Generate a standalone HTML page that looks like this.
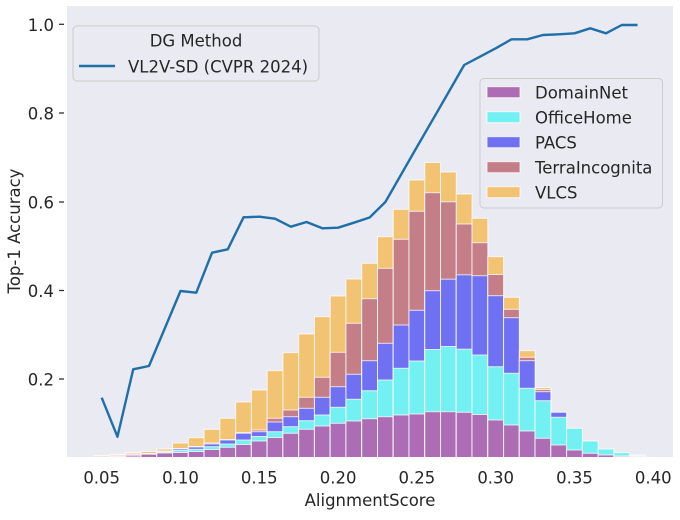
<!DOCTYPE html>
<html><head><meta charset="utf-8"><style>
html,body{margin:0;padding:0;background:#fff;}
svg{display:block;font-family:"DejaVu Sans","Liberation Sans",sans-serif;}
.v{fill:#f2c373}.t{fill:#c47e88}.p{fill:#7070f2}.o{fill:#73f0f2}.d{fill:#ad6db5}
.bars rect{stroke:#fff;stroke-opacity:.75;stroke-width:1}
text{fill:#262626;font-size:16.5px}
</style></head><body>
<svg width="680" height="520" viewBox="0 0 680 520" xmlns="http://www.w3.org/2000/svg">
<defs><clipPath id="c"><rect x="67" y="6" width="606" height="451"/></clipPath></defs>
<rect x="0" y="0" width="680" height="520" fill="#fff"/>
<rect x="67" y="6" width="606" height="451" fill="#eaeaf2"/>
<g class="bars" clip-path="url(#c)">
<g transform="translate(93.82,0)"><rect class="v" width="15.76" y="455.5" height="5" style="fill:#f7e6d8"/></g>
<g transform="translate(109.58,0)"><rect class="v" width="15.76" y="454.5" height="6" style="fill:#f5e2d2"/><rect class="d" width="15.76" y="456.3" height="4" style="fill:#e8d0e4"/></g>
<g transform="translate(125.34,0)"><rect class="v" width="15.76" y="452.5" height="8" style="fill:#f3dcc8"/><rect class="d" width="15.76" y="455" height="5" style="fill:#d6a8d6"/></g>
<g transform="translate(141.1,0)"><rect class="v" width="15.76" y="451.5" height="9"/><rect class="p" width="15.76" y="453.5" height="7"/><rect class="o" width="15.76" y="453.8" height="7"/><rect class="d" width="15.76" y="454.2" height="6"/></g>
<g transform="translate(156.86,0)"><rect class="v" width="15.76" y="449" height="11"/><rect class="t" width="15.76" y="451" height="9"/><rect class="p" width="15.76" y="451.5" height="9"/><rect class="o" width="15.76" y="452.2" height="8"/><rect class="d" width="15.76" y="453" height="7"/></g>
<g transform="translate(172.62,0)"><rect class="v" width="15.76" y="443" height="17"/><rect class="t" width="15.76" y="448.5" height="12"/><rect class="p" width="15.76" y="449" height="11"/><rect class="o" width="15.76" y="450.5" height="10"/><rect class="d" width="15.76" y="452.5" height="8"/></g>
<g transform="translate(188.38,0)"><rect class="v" width="15.76" y="437.7" height="23"/><rect class="t" width="15.76" y="446.5" height="14"/><rect class="p" width="15.76" y="447" height="13"/><rect class="o" width="15.76" y="449.3" height="11"/><rect class="d" width="15.76" y="451.5" height="9"/></g>
<g transform="translate(204.14,0)"><rect class="v" width="15.76" y="429.3" height="31"/><rect class="t" width="15.76" y="443" height="17"/><rect class="p" width="15.76" y="444" height="16"/><rect class="o" width="15.76" y="446.7" height="14"/><rect class="d" width="15.76" y="449.5" height="11"/></g>
<g transform="translate(219.9,0)"><rect class="v" width="15.76" y="418.3" height="42"/><rect class="t" width="15.76" y="439.5" height="21"/><rect class="p" width="15.76" y="440" height="20"/><rect class="o" width="15.76" y="444" height="16"/><rect class="d" width="15.76" y="447.3" height="13"/></g>
<g transform="translate(235.66,0)"><rect class="v" width="15.76" y="402" height="58"/><rect class="t" width="15.76" y="432.5" height="28"/><rect class="p" width="15.76" y="433.3" height="27"/><rect class="o" width="15.76" y="440" height="20"/><rect class="d" width="15.76" y="444.5" height="16"/></g>
<g transform="translate(251.42,0)"><rect class="v" width="15.76" y="390" height="70"/><rect class="t" width="15.76" y="430" height="30"/><rect class="p" width="15.76" y="431.7" height="29"/><rect class="o" width="15.76" y="436.5" height="24"/><rect class="d" width="15.76" y="441" height="19"/></g>
<g transform="translate(267.18,0)"><rect class="v" width="15.76" y="370.7" height="90"/><rect class="t" width="15.76" y="418.3" height="42"/><rect class="p" width="15.76" y="422" height="38"/><rect class="o" width="15.76" y="431.7" height="29"/><rect class="d" width="15.76" y="437.5" height="23"/></g>
<g transform="translate(282.94,0)"><rect class="v" width="15.76" y="352.7" height="108"/><rect class="t" width="15.76" y="410" height="50"/><rect class="p" width="15.76" y="416.7" height="44"/><rect class="o" width="15.76" y="426.7" height="34"/><rect class="d" width="15.76" y="433.3" height="27"/></g>
<g transform="translate(298.7,0)"><rect class="v" width="15.76" y="334" height="126"/><rect class="t" width="15.76" y="397.3" height="63"/><rect class="p" width="15.76" y="408.3" height="52"/><rect class="o" width="15.76" y="420.7" height="40"/><rect class="d" width="15.76" y="429.3" height="31"/></g>
<g transform="translate(314.46,0)"><rect class="v" width="15.76" y="316.7" height="144"/><rect class="t" width="15.76" y="377.3" height="83"/><rect class="p" width="15.76" y="397.3" height="63"/><rect class="o" width="15.76" y="415" height="45"/><rect class="d" width="15.76" y="426" height="34"/></g>
<g transform="translate(330.22,0)"><rect class="v" width="15.76" y="296" height="164"/><rect class="t" width="15.76" y="352.3" height="108"/><rect class="p" width="15.76" y="386.7" height="74"/><rect class="o" width="15.76" y="407.3" height="53"/><rect class="d" width="15.76" y="423.3" height="37"/></g>
<g transform="translate(345.98,0)"><rect class="v" width="15.76" y="279" height="181"/><rect class="t" width="15.76" y="323.3" height="137"/><rect class="p" width="15.76" y="374.3" height="86"/><rect class="o" width="15.76" y="399.3" height="61"/><rect class="d" width="15.76" y="421" height="39"/></g>
<g transform="translate(361.74,0)"><rect class="v" width="15.76" y="263.3" height="197"/><rect class="t" width="15.76" y="298.7" height="162"/><rect class="p" width="15.76" y="360.7" height="100"/><rect class="o" width="15.76" y="390.7" height="70"/><rect class="d" width="15.76" y="418.7" height="42"/></g>
<g transform="translate(377.5,0)"><rect class="v" width="15.76" y="236.7" height="224"/><rect class="t" width="15.76" y="268.3" height="192"/><rect class="p" width="15.76" y="343.3" height="117"/><rect class="o" width="15.76" y="380" height="80"/><rect class="d" width="15.76" y="416.7" height="44"/></g>
<g transform="translate(393.26,0)"><rect class="v" width="15.76" y="209.3" height="251"/><rect class="t" width="15.76" y="239.3" height="221"/><rect class="p" width="15.76" y="325" height="135"/><rect class="o" width="15.76" y="368.3" height="92"/><rect class="d" width="15.76" y="415" height="45"/></g>
<g transform="translate(409.02,0)"><rect class="v" width="15.76" y="180" height="280"/><rect class="t" width="15.76" y="211.3" height="249"/><rect class="p" width="15.76" y="310.3" height="150"/><rect class="o" width="15.76" y="361" height="99"/><rect class="d" width="15.76" y="414" height="46"/></g>
<g transform="translate(424.78,0)"><rect class="v" width="15.76" y="162.5" height="298"/><rect class="t" width="15.76" y="192.7" height="268"/><rect class="p" width="15.76" y="290.7" height="170"/><rect class="o" width="15.76" y="349.5" height="111"/><rect class="d" width="15.76" y="411.7" height="49"/></g>
<g transform="translate(440.54,0)"><rect class="v" width="15.76" y="172" height="288"/><rect class="t" width="15.76" y="201.8" height="259"/><rect class="p" width="15.76" y="279.2" height="181"/><rect class="o" width="15.76" y="346.5" height="114"/><rect class="d" width="15.76" y="411.7" height="49"/></g>
<g transform="translate(456.3,0)"><rect class="v" width="15.76" y="194" height="266"/><rect class="t" width="15.76" y="224" height="236"/><rect class="p" width="15.76" y="274.8" height="186"/><rect class="o" width="15.76" y="349.2" height="111"/><rect class="d" width="15.76" y="412.3" height="48"/></g>
<g transform="translate(472.06,0)"><rect class="v" width="15.76" y="218.3" height="242"/><rect class="t" width="15.76" y="242.7" height="218"/><rect class="p" width="15.76" y="275.7" height="185"/><rect class="o" width="15.76" y="355" height="105"/><rect class="d" width="15.76" y="414.5" height="46"/></g>
<g transform="translate(487.82,0)"><rect class="v" width="15.76" y="256.7" height="204"/><rect class="t" width="15.76" y="274.5" height="186"/><rect class="p" width="15.76" y="295.7" height="165"/><rect class="o" width="15.76" y="366.7" height="94"/><rect class="d" width="15.76" y="420" height="40"/></g>
<g transform="translate(503.58,0)"><rect class="v" width="15.76" y="297.3" height="163"/><rect class="t" width="15.76" y="309.3" height="151"/><rect class="p" width="15.76" y="317.7" height="143"/><rect class="o" width="15.76" y="373.3" height="87"/><rect class="d" width="15.76" y="425" height="35"/></g>
<g transform="translate(519.34,0)"><rect class="v" width="15.76" y="350.7" height="110"/><rect class="t" width="15.76" y="357.3" height="103"/><rect class="p" width="15.76" y="360.7" height="100"/><rect class="o" width="15.76" y="388.3" height="72"/><rect class="d" width="15.76" y="431" height="29"/></g>
<g transform="translate(535.1,0)"><rect class="v" width="15.76" y="387.7" height="73"/><rect class="t" width="15.76" y="389.6" height="71"/><rect class="p" width="15.76" y="391.7" height="69"/><rect class="o" width="15.76" y="400.7" height="60"/><rect class="d" width="15.76" y="438.3" height="22"/></g>
<g transform="translate(550.86,0)"><rect class="p" width="15.76" y="412.3" height="48"/><rect class="o" width="15.76" y="417.3" height="43"/><rect class="d" width="15.76" y="445" height="15"/></g>
<g transform="translate(566.62,0)"><rect class="o" width="15.76" y="428.3" height="32"/><rect class="d" width="15.76" y="450" height="10"/></g>
<g transform="translate(582.38,0)"><rect class="o" width="15.76" y="441" height="19"/><rect class="d" width="15.76" y="453.3" height="7"/></g>
<g transform="translate(598.14,0)"><rect class="o" width="15.76" y="449" height="11"/><rect class="d" width="15.76" y="455" height="5"/></g>
<g transform="translate(613.9,0)"><rect class="o" width="15.76" y="452.7" height="8"/><rect class="d" width="15.76" y="456" height="4" style="fill:#e0c0e0"/></g>
<g transform="translate(629.66,0)"><rect class="o" width="15.76" y="455" height="5" style="fill:#e8f4f6"/></g>
</g>
<polyline clip-path="url(#c)" fill="none" stroke="#1f6fa8" stroke-width="2.4" stroke-linejoin="round" points="101.7,397.7 117.46,436.7 133.22,369.3 148.98,366 164.74,328.5 180.5,291 196.26,292.7 212.02,252.7 227.78,249.3 243.54,217.3 259.3,216.7 275.06,218.7 290.82,226.7 306.58,222 322.34,228.3 338.1,227.7 353.86,222.7 369.62,217.5 385.38,202 401.14,174.5 416.9,147 432.66,119.8 448.42,92.5 464.18,65 479.94,56.7 495.7,48.3 511.46,39.3 527.22,39.3 542.98,35 558.74,34.3 574.5,33.3 590.26,28.3 606.02,33.3 621.78,25 637.54,25"/>
<!-- y ticks -->
<g stroke="#333" stroke-width="1.3">
<line x1="59" x2="64" y1="24.3" y2="24.3"/><line x1="59" x2="64" y1="113" y2="113"/><line x1="59" x2="64" y1="202" y2="202"/><line x1="59" x2="64" y1="290.5" y2="290.5"/><line x1="59" x2="64" y1="379" y2="379"/>
</g>
<g text-anchor="end">
<text x="54" y="31">1.0</text><text x="54" y="119.7">0.8</text><text x="54" y="208.7">0.6</text><text x="54" y="297.2">0.4</text><text x="54" y="385.5">0.2</text>
</g>
<g text-anchor="middle">
<text x="101.7" y="483.5">0.05</text><text x="180.5" y="483.5">0.10</text><text x="259.3" y="483.5">0.15</text><text x="338.1" y="483.5">0.20</text><text x="416.9" y="483.5">0.25</text><text x="495.7" y="483.5">0.30</text><text x="574.5" y="483.5">0.35</text><text x="653.3" y="483.5">0.40</text>
<text x="370" y="506">AlignmentScore</text>
<text transform="translate(20,231) rotate(-90)">Top-1 Accuracy</text>
</g>
<!-- legend 1 -->
<rect x="73" y="26" width="246" height="55" rx="4" fill="#eaeaf2" fill-opacity="0.8" stroke="#cccccc" stroke-width="1"/>
<text x="196" y="46.5" text-anchor="middle">DG Method</text>
<line x1="79" x2="115" y1="66" y2="66" stroke="#1f6fa8" stroke-width="2.4"/>
<text x="128" y="72.5">VL2V-SD (CVPR 2024)</text>
<!-- legend 2 -->
<rect x="480" y="78.5" width="182.5" height="129.5" rx="4" fill="#eaeaf2" fill-opacity="0.8" stroke="#cccccc" stroke-width="1"/>
<g class="bars">
<rect class="d" x="487" y="86.7" width="33" height="11"/>
<rect class="o" x="487" y="111.7" width="33" height="11"/>
<rect class="p" x="487" y="136.7" width="33" height="11"/>
<rect class="t" x="487" y="161.7" width="33" height="11"/>
<rect class="v" x="487" y="186.7" width="33" height="11"/>
</g>
<text x="535" y="98.5">DomainNet</text>
<text x="535" y="123.5">OfficeHome</text>
<text x="535" y="148.5">PACS</text>
<text x="535" y="173.5">TerraIncognita</text>
<text x="535" y="198.5">VLCS</text>
</svg>
</body></html>
